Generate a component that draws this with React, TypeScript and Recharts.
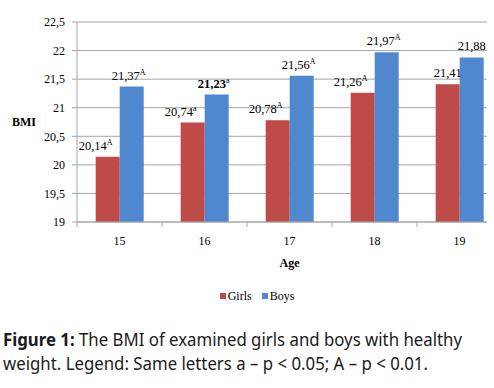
import React from 'react';
import { BarChart, Bar, XAxis, YAxis, CartesianGrid, LabelList, Legend } from 'recharts';

// ---- data ----
const ages = ['15', '16', '17', '18', '19'];
const girlsBMI = [20.14, 20.74, 20.78, 21.26, 21.41];
const boysBMI = [21.37, 21.23, 21.56, 21.97, 21.88];
const girlsMarks = ['A', 'a', 'A', 'A', ''];
const boysMarks = ['A', 'a', 'A', 'A', ''];
const yTicks = [19, 19.5, 20, 20.5, 21, 21.5, 22, 22.5];

const data = ages.map((age, i) => ({
  age,
  Girls: girlsBMI[i],
  Boys: boysBMI[i],
}));

// ---- styles ----
const SERIF = '"Times New Roman", "Liberation Serif", serif';
const RED = '#BE4B48';
const BLUE = '#5088D0';
const GRID = '#A6A6A6';
const BOLD_BOYS_INDEX = 1;

const fmt = (v: number) => String(v).replace('.', ',');

const makeLabel = (marks: string[], shift: number, boldIndex: number) => (props: any) => {
  const { x, y, width, value, index } = props;
  const mark = marks[index];
  const cx = x + width / 2 + (mark ? shift : 0);
  return (
    <text
      x={cx}
      y={y - 7}
      textAnchor="middle"
      style={{ fontFamily: SERIF }}
      fontSize={12.5}
      fill="#000"
      fontWeight={index === boldIndex ? 'bold' : 'normal'}
    >
      {fmt(value)}
      {mark ? (
        <tspan fontSize={8} dy={-5} fontWeight="normal">
          {mark}
        </tspan>
      ) : null}
    </text>
  );
};

const XTick = (props: any) => {
  const { x, y, payload } = props;
  const half = payload && payload.offset ? payload.offset : 42.5;
  const axisY = y;
  return (
    <g>
      <line x1={x - half} y1={axisY} x2={x - half} y2={axisY + 5} stroke={GRID} />
      <text x={x} y={axisY + 23} textAnchor="middle" style={{ fontFamily: SERIF }} fontSize={12} fill="#000">
        {payload.value}
      </text>
    </g>
  );
};

const LegendContent = () => (
  <div
    style={{
      display: 'flex',
      justifyContent: 'center',
      alignItems: 'center',
      height: 20,
      paddingLeft: 12,
      fontFamily: SERIF,
      fontSize: 12,
      color: '#000',
    }}
  >
    <span style={{ display: 'inline-block', width: 6, height: 6, background: RED, marginRight: 2 }} />
    <span style={{ marginRight: 10 }}>Girls</span>
    <span style={{ display: 'inline-block', width: 6, height: 6, background: BLUE, marginRight: 2 }} />
    <span>Boys</span>
  </div>
);

export default function App() {
  return (
    <div
      style={{
        position: 'fixed',
        left: 0,
        top: 0,
        width: 494,
        height: 388,
        background: '#fff',
        overflow: 'hidden',
        fontFamily: SERIF,
      }}
    >
      <div style={{ position: 'absolute', left: 0, top: 0, width: 487, height: 310, overflow: 'hidden' }}>
        <BarChart
          width={514}
          height={310}
          data={data}
          margin={{ top: 22, right: 12, left: 0, bottom: 4 }}
          barGap={0}
          barCategoryGap="22%"
        >
          <CartesianGrid vertical={false} stroke={GRID} />
          <XAxis
            dataKey="age"
            height={64}
            tickLine={false}
            tickSize={0}
            tickMargin={0}
            axisLine={{ stroke: GRID }}
            tick={<XTick />}
            interval={0}
            label={{
              content: (p: any) => {
                const vb = p.viewBox || {};
                return (
                  <text
                    x={vb.x + vb.width / 2}
                    y={vb.y + 45}
                    textAnchor="middle"
                    style={{ fontFamily: SERIF }}
                    fontSize={12}
                    fontWeight="bold"
                    fill="#000"
                  >
                    Age
                  </text>
                );
              },
            }}
          />
          <YAxis
            width={77}
            domain={[19, 22.5]}
            ticks={yTicks}
            interval={0}
            tickFormatter={fmt}
            tickSize={5}
            tickMargin={7}
            tickLine={{ stroke: GRID }}
            axisLine={{ stroke: GRID }}
            tick={{ fontSize: 12, fill: '#000', style: { fontFamily: SERIF } }}
            label={{
              content: (p: any) => {
                const vb = p.viewBox || {};
                return (
                  <text
                    x={24}
                    y={vb.y + vb.height / 2 + 4}
                    textAnchor="middle"
                    style={{ fontFamily: SERIF }}
                    fontSize={12}
                    fontWeight="bold"
                    fill="#000"
                  >
                    BMI
                  </text>
                );
              },
            }}
          />
          <Legend verticalAlign="bottom" content={<LegendContent />} />
          <Bar dataKey="Girls" fill={RED} isAnimationActive={false}>
            <LabelList dataKey="Girls" content={makeLabel(girlsMarks, -12, -1)} />
          </Bar>
          <Bar dataKey="Boys" fill={BLUE} isAnimationActive={false}>
            <LabelList dataKey="Boys" content={makeLabel(boysMarks, -3, BOLD_BOYS_INDEX)} />
          </Bar>
        </BarChart>
      </div>
      <div
        style={{
          position: 'absolute',
          left: 3,
          top: 327,
          fontFamily: '"Noto Sans", sans-serif',
          fontSize: 18,
          lineHeight: '24px',
          color: '#1a1a1a',
          whiteSpace: 'nowrap',
          transform: 'scaleX(0.933)',
          transformOrigin: '0 0',
        }}
      >
        <div>
          <b>Figure 1:</b> The BMI of examined girls and boys with healthy
        </div>
        <div>weight. Legend: Same letters a – p &lt; 0.05; A – p &lt; 0.01.</div>
      </div>
    </div>
  );
}
